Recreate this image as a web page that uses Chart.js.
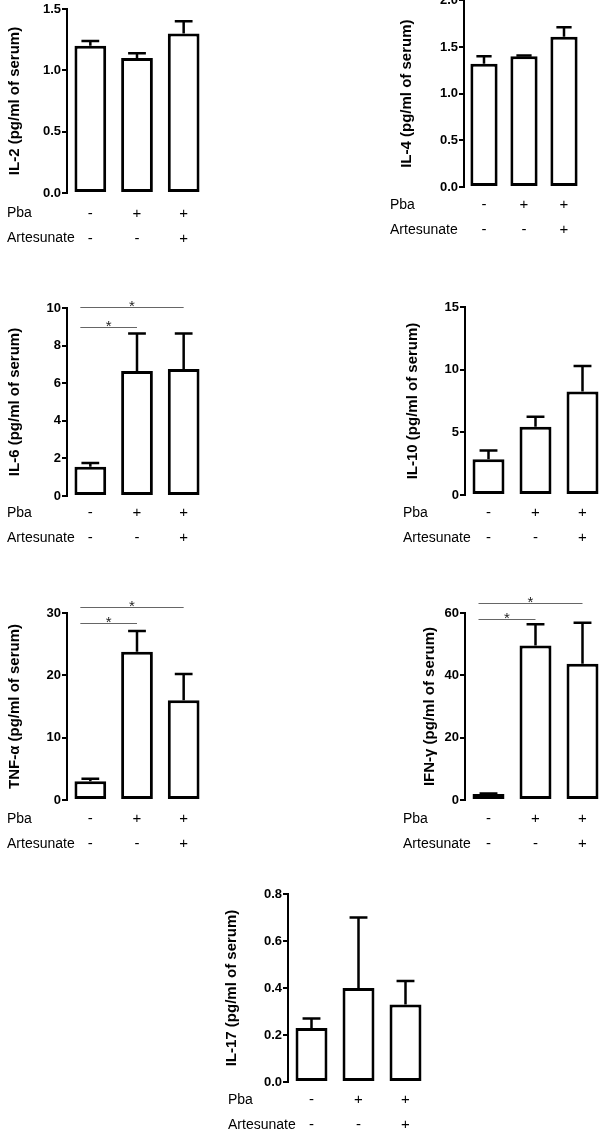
<!DOCTYPE html>
<html>
<head>
<meta charset="utf-8">
<script src="https://cdn.jsdelivr.net/npm/chart.js@4.4.1/dist/chart.umd.min.js"></script>
<style>
  html, body { margin: 0; padding: 0; background: #fff; }
  body { position: relative; width: 600px; height: 1133px; overflow: hidden; }
  canvas { position: absolute; }
</style>
</head>
<body>
<canvas id="il2"></canvas>
<canvas id="il4"></canvas>
<canvas id="il6"></canvas>
<canvas id="il10"></canvas>
<canvas id="tnf"></canvas>
<canvas id="ifn"></canvas>
<canvas id="il17"></canvas>
<script>
// treatment groups
const pba = ['-', '+', '+'];
const artesunate = ['-', '-', '+'];

// mean and SEM per cytokine (pg/ml of serum)
const il2Mean = [1.20, 1.10, 1.30];
const il2Sem = [0.04, 0.04, 0.10];
const il2Ticks = [0, 0.5, 1.0, 1.5];

const il4Mean = [1.32, 1.40, 1.61];
const il4Sem = [0.08, 0.01, 0.10];
const il4Ticks = [0, 0.5, 1.0, 1.5, 2.0];

const il6Mean = [1.55, 6.65, 6.75];
const il6Sem = [0.20, 2.00, 1.90];
const il6Ticks = [0, 2, 4, 6, 8, 10];

const il10Mean = [2.85, 5.45, 8.25];
const il10Sem = [0.70, 0.80, 2.05];
const il10Ticks = [0, 5, 10, 15];

const tnfMean = [3.0, 23.8, 16.0];
const tnfSem = [0.4, 3.3, 4.2];
const tnfTicks = [0, 10, 20, 30];

const ifnMean = [1.9, 49.6, 43.7];
const ifnSem = [0.2, 6.8, 13.2];
const ifnTicks = [0, 20, 40, 60];

const il17Mean = [0.23, 0.40, 0.33];
const il17Sem = [0.04, 0.30, 0.10];
const il17Ticks = [0, 0.2, 0.4, 0.6, 0.8];

// significant comparisons (group index pairs)
const il6Sig = [[0, 1], [0, 2]];
const tnfSig = [[0, 1], [0, 2]];
const ifnSig = [[0, 1], [0, 2]];

const FONT = "'Liberation Sans', Arial, sans-serif";
const labels = pba.map((p, i) => [p, artesunate[i]]);

const panels = [
    { id: 'il2', title: 'IL-2 (pg/ml of serum)', mean: il2Mean, sem: il2Sem, ticks: il2Ticks, digits: 1,
      box: [0, 0, 210, 250], axisX: 67, top: 9, zero: 193, right: 207, rowPad: 8, titleX: 15, rowX: 7 },
    { id: 'il4', title: 'IL-4 (pg/ml of serum)', mean: il4Mean, sem: il4Sem, ticks: il4Ticks, digits: 1,
      box: [380, 0, 220, 250], axisX: 464, top: 0.3, zero: 187, right: 584, rowPad: 5.5, titleX: 407, rowX: 390 },
    { id: 'il6', title: 'IL-6 (pg/ml of serum)', mean: il6Mean, sem: il6Sem, ticks: il6Ticks, digits: 0, sig: il6Sig,
      box: [0, 280, 210, 270], axisX: 67, top: 308, zero: 496, right: 207, rowPad: 4.5, titleX: 15, rowX: 7, sigBase: 19, sigGap: 20 },
    { id: 'il10', title: 'IL-10 (pg/ml of serum)', mean: il10Mean, sem: il10Sem, ticks: il10Ticks, digits: 0,
      box: [380, 290, 230, 260], axisX: 465, top: 307, zero: 495, right: 606, rowPad: 5.5, titleX: 413, rowX: 403 },
    { id: 'tnf', title: 'TNF-\u03b1 (pg/ml of serum)', mean: tnfMean, sem: tnfSem, ticks: tnfTicks, digits: 0, sig: tnfSig,
      box: [0, 580, 210, 270], axisX: 67, top: 613, zero: 800, right: 207, rowPad: 6.5, titleX: 15, rowX: 7, sigBase: 10, sigGap: 16 },
    { id: 'ifn', title: 'IFN-\u03b3 (pg/ml of serum)', mean: ifnMean, sem: ifnSem, ticks: ifnTicks, digits: 0, sig: ifnSig,
      box: [380, 580, 230, 270], axisX: 465, top: 613, zero: 800, right: 606, rowPad: 6.5, titleX: 430, rowX: 403, sigBase: 6, sigGap: 16 },
    { id: 'il17', title: 'IL-17 (pg/ml of serum)', mean: il17Mean, sem: il17Sem, ticks: il17Ticks, digits: 1,
      box: [200, 870, 240, 263], axisX: 288, top: 894, zero: 1082, right: 429, rowPad: 5.5, titleX: 232, rowX: 228 }
];

// error bars, significance brackets and the row names under the x axis
const extras = {
    id: 'extras',
    afterDatasetsDraw(chart, args, opts) {
        const p = opts.panel;
        const ctx = chart.ctx;
        const meta = chart.getDatasetMeta(0);
        const y = chart.scales.y;
        ctx.save();
        ctx.strokeStyle = '#000';
        ctx.lineWidth = 2.5;
        meta.data.forEach((bar, i) => {
            const yTop = y.getPixelForValue(p.mean[i] + p.sem[i]);
            const half = bar.width * 0.28;
            ctx.beginPath();
            ctx.moveTo(bar.x, bar.y);
            ctx.lineTo(bar.x, yTop);
            ctx.moveTo(bar.x - half, yTop);
            ctx.lineTo(bar.x + half, yTop);
            ctx.stroke();
        });
        if (p.sig) {
            p.sig.forEach(([a, b], k) => {
                const ly = Math.round(chart.chartArea.top + p.sigBase - k * p.sigGap) + 0.5;
                const x1 = meta.data[a].x - 10;
                const x2 = meta.data[b].x;
                ctx.strokeStyle = '#666';
                ctx.lineWidth = 1;
                ctx.beginPath();
                ctx.moveTo(x1, ly);
                ctx.lineTo(x2, ly);
                ctx.stroke();
                ctx.fillStyle = '#222';
                ctx.font = '15px ' + FONT;
                ctx.textAlign = 'center';
                ctx.textBaseline = 'alphabetic';
                ctx.fillText('*', (x1 + x2) / 2, ly + 3);
            });
        }
        ctx.restore();
    },
    afterDraw(chart, args, opts) {
        const p = opts.panel;
        const ctx = chart.ctx;
        const base = chart.scales.x.top + p.rowPad + 12.5;
        ctx.save();
        ctx.fillStyle = '#000';
        ctx.font = '14px ' + FONT;
        ctx.textAlign = 'left';
        ctx.textBaseline = 'middle';
        ctx.fillText('Pba', p.rowX - p.box[0], base);
        ctx.fillText('Artesunate', p.rowX - p.box[0], base + 25);
        ctx.restore();
    }
};

panels.forEach(p => {
    const [bx, by, bw, bh] = p.box;
    const canvas = document.getElementById(p.id);
    canvas.width = bw;
    canvas.height = bh;
    canvas.style.left = bx + 'px';
    canvas.style.top = by + 'px';

    new Chart(canvas.getContext('2d'), {
        type: 'bar',
        data: {
            labels: labels,
            datasets: [{
                data: p.mean,
                backgroundColor: '#fff',
                borderColor: '#000',
                borderWidth: 3,
                borderSkipped: false,
                categoryPercentage: 1,
                barPercentage: 0.68
            }]
        },
        options: {
            responsive: false,
            animation: false,
            events: [],
            layout: {
                padding: { left: 0, top: p.top - by, right: bx + bw - p.right, bottom: 0 }
            },
            scales: {
                x: {
                    grid: { display: false, drawTicks: false },
                    border: { display: false },
                    ticks: {
                        color: '#000',
                        padding: p.rowPad,
                        autoSkip: false,
                        maxRotation: 0,
                        font: { family: FONT, size: 15, lineHeight: '25px' }
                    },
                    afterFit: s => {
                        s.height = by + bh - p.zero;
                        s.paddingLeft = 0;
                        s.paddingRight = 0;
                    }
                },
                y: {
                    min: p.ticks[0],
                    max: p.ticks[p.ticks.length - 1],
                    afterBuildTicks: s => { s.ticks = p.ticks.map(v => ({ value: v })); },
                    grid: {
                        drawOnChartArea: false,
                        drawTicks: true,
                        tickLength: 5,
                        color: '#000',
                        lineWidth: 2
                    },
                    border: { display: true, color: '#000', width: 2 },
                    ticks: {
                        color: '#000',
                        padding: 1,
                        font: { family: FONT, size: 13, weight: 'bold' },
                        callback: v => Number(v).toFixed(p.digits)
                    },
                    title: {
                        display: true,
                        text: p.title,
                        color: '#000',
                        font: { family: FONT, size: 15, weight: 'bold', lineHeight: 1.2 },
                        padding: { top: p.titleX - bx - 9, bottom: 0 }
                    },
                    afterFit: s => {
                        s.width = p.axisX - bx;
                        s.paddingTop = 0;
                        s.paddingBottom = 0;
                    }
                }
            },
            plugins: {
                legend: { display: false },
                tooltip: { enabled: false },
                extras: { panel: p }
            }
        },
        plugins: [extras]
    });
});
</script>
</body>
</html>
